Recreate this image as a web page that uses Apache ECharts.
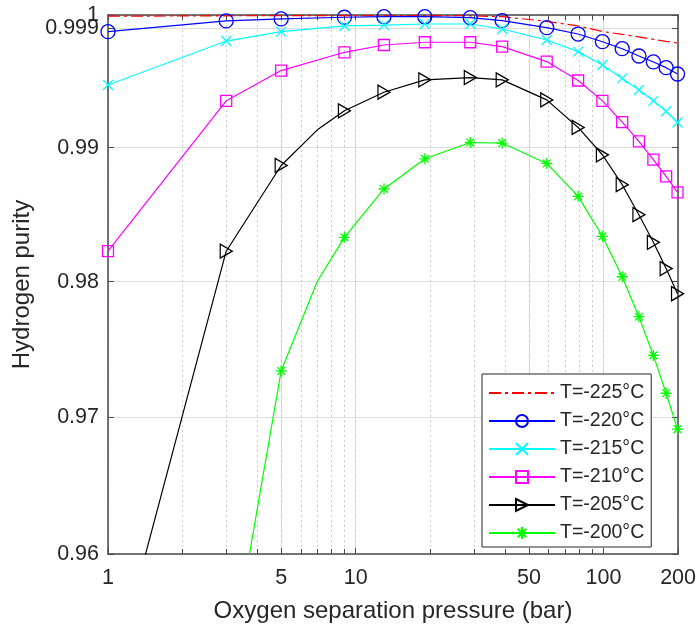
<!DOCTYPE html>
<html><head><meta charset="utf-8">
<script src="https://cdn.jsdelivr.net/npm/echarts@6/dist/echarts.min.js"></script>
<style>html,body{margin:0;padding:0;background:#fff}#c{width:699px;height:628px}</style>
</head><body><div id="c"></div>
<script>
const pressure = [1,3,5,9,13,19,29,39,59,79,99,119,139,159,179,199];
const pressureFine = [1,3,5,7,9,13,19,29,39,59,79,99,119,139,159,179,199];
const unmarkedPressure = [7];
const seriesNames = ['T=-225°C','T=-220°C','T=-215°C','T=-210°C','T=-205°C','T=-200°C'];
const purity225 = [0.99991,0.99994,0.99995,0.99996,0.99996,0.99996,0.99994,0.99987,0.99952,0.99917,0.99875,0.99853,0.99834,0.99816,0.99801,0.99788];
const purity220 = [0.99874,0.99955,0.99970,0.99983,0.99987,0.99987,0.99980,0.99957,0.99904,0.99856,0.99798,0.99745,0.99690,0.99645,0.99602,0.99554];
const purity215 = [0.99471,0.99803,0.99874,0.99917,0.99924,0.99932,0.99932,0.99894,0.99811,0.99723,0.99622,0.99521,0.99433,0.99352,0.99274,0.99189];
const purity210 = [0.98227,0.99352,0.99580,0.99718,0.99773,0.99794,0.99794,0.99761,0.99648,0.99505,0.99352,0.99192,0.99047,0.98910,0.98785,0.98666];
const purity205 = [0.9498,0.98227,0.98867,0.99134,0.99277,0.99417,0.99510,0.99527,0.99510,0.99359,0.99152,0.98947,0.98723,0.98499,0.98293,0.98098,0.97911];
const purity200 = [0.90,0.95027,0.97340,0.98004,0.98330,0.98691,0.98917,0.99039,0.99035,0.98882,0.98636,0.98338,0.98037,0.97741,0.97455,0.97176,0.96912];
const xMajorTicks = [1,5,10,50,100,200];
const xMinorTicks = [2,3,4,6,7,8,9,20,30,40,60,70,80,90];
const yTicks = [0.96,0.97,0.98,0.99,0.999,1];
const yTopLabel = [1];

const FONT = 'Liberation Sans';
const TXT = '#262626';
const AX = '#4a4a4a';

function pairs(xs, ys) {
  return xs.map((x, i) => {
    const d = {value: [x, ys[i]]};
    if (unmarkedPressure.indexOf(x) >= 0) d.symbol = 'none';
    return d;
  });
}
const allXTicks = xMajorTicks.concat(xMinorTicks).sort((a,b)=>a-b);
const yLowerLabels = yTicks.filter(v => yTopLabel.indexOf(v) < 0);
const fmt = v => String(+(+v).toPrecision(6));

function mkSeries(name, xs, ys, color, symbol, size, dash) {
  const noMark = symbol === 'none';
  return {
    name, type: 'line', data: pairs(xs, ys),
    symbol: noMark ? 'circle' : symbol, symbolSize: noMark ? 0 : size, showSymbol: !noMark,
    lineStyle: {color, width: 1.2, type: dash || 'solid'},
    itemStyle: {color: 'rgba(0,0,0,0)', borderColor: noMark ? 'rgba(0,0,0,0)' : color, borderWidth: noMark ? 0 : 1.3},
    emphasis: {disabled: true},
    z: 3, animation: false
  };
}

const chart = echarts.init(document.getElementById('c'), null, {renderer: 'canvas'});
const baseX = {type: 'log', logBase: 10, min: 1, max: 200};
const baseY = {type: 'log', logBase: 10, min: 0.96, max: 1};
const labelStyle = {fontFamily: FONT, fontSize: 21.5, color: TXT, formatter: fmt};
chart.setOption({
  animation: false,
  backgroundColor: '#fff',
  grid: {left: 108, right: 20, top: 15, bottom: 73, containLabel: false},
  legend: {
    orient: 'vertical', left: 482, top: 374,
    padding: [9, 7, 4, 6], itemGap: 8, itemWidth: 66, itemHeight: 15,
    borderColor: '#262626', borderWidth: 1, backgroundColor: '#fff',
    textStyle: {fontFamily: FONT, fontSize: 19.5, color: TXT},
    data: seriesNames
  },
  xAxis: [
    Object.assign({}, baseX, {
      position: 'bottom',
      name: 'Oxygen separation pressure (bar)', nameLocation: 'middle', nameGap: 45,
      nameTextStyle: {fontFamily: FONT, fontSize: 24, color: TXT},
      axisLine: {show: true, lineStyle: {color: AX, width: 1.5}},
      axisTick: {show: true, inside: true, length: 6, customValues: xMajorTicks, lineStyle: {color: AX}},
      axisLabel: Object.assign({show: true, customValues: xMajorTicks, margin: 13, showMinLabel: true, showMaxLabel: true}, labelStyle),
      splitLine: {show: true, lineStyle: {color: '#dedede', width: 1.2, type: 'solid'}},
      minorTick: {show: false}, minorSplitLine: {show: false}
    }),
    Object.assign({}, baseX, {
      position: 'top',
      axisLine: {show: true, lineStyle: {color: AX, width: 1.5}},
      axisTick: {show: true, inside: true, length: 5, customValues: allXTicks, lineStyle: {color: AX}},
      axisLabel: {show: false},
      splitLine: {show: true, lineStyle: {color: '#cccccc', width: 1, type: [2, 3]}}
    }),
    Object.assign({}, baseX, {
      position: 'bottom',
      axisLine: {show: false},
      axisTick: {show: true, inside: true, length: 5, customValues: allXTicks, lineStyle: {color: AX}},
      axisLabel: {show: false},
      splitLine: {show: false}
    })
  ],
  yAxis: [
    Object.assign({}, baseY, {
      position: 'left',
      name: 'Hydrogen purity', nameLocation: 'middle', nameGap: 70, nameRotate: 90,
      nameTextStyle: {fontFamily: FONT, fontSize: 24, color: TXT},
      axisLine: {show: true, lineStyle: {color: AX, width: 1.5}},
      axisTick: {show: true, inside: true, length: 6, customValues: yTicks, lineStyle: {color: AX}},
      axisLabel: Object.assign({show: true, customValues: yLowerLabels, margin: 9, showMinLabel: true, showMaxLabel: true}, labelStyle),
      splitLine: {show: true, lineStyle: {color: '#dedede', width: 1.2}}
    }),
    Object.assign({}, baseY, {
      position: 'right',
      axisLine: {show: true, lineStyle: {color: AX, width: 1.5}},
      axisTick: {show: true, inside: true, length: 6, customValues: yTicks, lineStyle: {color: AX}},
      axisLabel: {show: false},
      splitLine: {show: false}
    }),
    Object.assign({}, baseY, {
      position: 'left', offset: 0,
      axisLine: {show: false},
      axisTick: {show: false, customValues: yTopLabel},
      axisLabel: Object.assign({show: true, customValues: yTopLabel, margin: 9, showMinLabel: true, showMaxLabel: true}, labelStyle),
      splitLine: {show: false}
    })
  ],
  series: [
    mkSeries(seriesNames[0], pressure, purity225, '#ff0000', 'none', 0, [12, 4, 3, 4]),
    mkSeries(seriesNames[1], pressure, purity220, '#0000ff', 'circle', 14),
    mkSeries(seriesNames[2], pressure, purity215, '#00ffff', 'path://M0,0L10,10M10,0L0,10', 10),
    mkSeries(seriesNames[3], pressure, purity210, '#ff00ff', 'rect', 11),
    mkSeries(seriesNames[4], pressureFine, purity205, '#000000', 'path://M0,0L10,5L0,10Z', [12, 14]),
    mkSeries(seriesNames[5], pressureFine, purity200, '#00ff00', 'path://M5,0L5,10M0,5L10,5M1.5,1.5L8.5,8.5M8.5,1.5L1.5,8.5', 11)
  ]
});
</script></body></html>
